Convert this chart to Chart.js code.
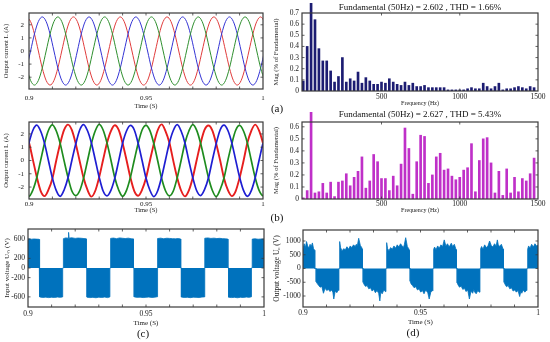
<!DOCTYPE html>
<html><head><meta charset="utf-8">
<script src="https://cdn.jsdelivr.net/npm/chart.js@4.4.1/dist/chart.umd.min.js"></script>
<style>
html,body{margin:0;padding:0;background:#fff;}
body{width:550px;height:342px;position:relative;overflow:hidden;}
.box{position:absolute;}
.lbl{position:absolute;font-family:'Liberation Serif','Times New Roman',serif;font-size:11px;color:#111;transform:translate(-50%,-50%);white-space:nowrap;}
</style></head><body>
<div class="box" style="left:0;top:0;width:270px;height:110px"><canvas id="c1"></canvas></div>
<div class="box" style="left:270px;top:0;width:280px;height:108px"><canvas id="c2"></canvas></div>
<div class="box" style="left:0;top:110px;width:270px;height:106px"><canvas id="c3"></canvas></div>
<div class="box" style="left:270px;top:108px;width:280px;height:108px"><canvas id="c4"></canvas></div>
<div class="box" style="left:0;top:216px;width:272px;height:126px"><canvas id="c5"></canvas></div>
<div class="box" style="left:272px;top:216px;width:278px;height:126px"><canvas id="c6"></canvas></div>
<div class="lbl" style="left:277px;top:108px">(a)</div>
<div class="lbl" style="left:277px;top:217px">(b)</div>
<div class="lbl" style="left:143px;top:333px">(c)</div>
<div class="lbl" style="left:413px;top:332px">(d)</div>
<script>
// ---------------- DATA ----------------
// (a) output current, time samples (s) and three phases (A)
const timeA = [
0.89900,0.90067,0.90233,0.90400,0.90567,0.90733,0.90900,0.91067,0.91233,0.91400,0.91567,0.91733,
0.91900,0.92067,0.92233,0.92400,0.92567,0.92733,0.92900,0.93067,0.93233,0.93400,0.93567,0.93733,
0.93900,0.94067,0.94233,0.94400,0.94567,0.94733,0.94900,0.95067,0.95233,0.95400,0.95567,0.95733,
0.95900,0.96067,0.96233,0.96400,0.96567,0.96733,0.96900,0.97067,0.97233,0.97400,0.97567,0.97733,
0.97900,0.98067,0.98233,0.98400,0.98567,0.98733,0.98900,0.99067,0.99233,0.99400,0.99567,0.99733,
0.99900,1.00067];
const iaRed = [
2.6,2.25,1.3,0,-1.3,-2.25,-2.6,-2.25,-1.3,0,1.3,2.25,
2.6,2.25,1.3,0,-1.3,-2.25,-2.6,-2.25,-1.3,0,1.3,2.25,
2.6,2.25,1.3,0,-1.3,-2.25,-2.6,-2.25,-1.3,0,1.3,2.25,
2.6,2.25,1.3,0,-1.3,-2.25,-2.6,-2.25,-1.3,0,1.3,2.25,
2.6,2.25,1.3,0,-1.3,-2.25,-2.6,-2.25,-1.3,0,1.3,2.25,
2.6,2.25];
const iaBlue = [
-1.3,0,1.3,2.25,2.6,2.25,1.3,0,-1.3,-2.25,-2.6,-2.25,
-1.3,0,1.3,2.25,2.6,2.25,1.3,0,-1.3,-2.25,-2.6,-2.25,
-1.3,0,1.3,2.25,2.6,2.25,1.3,0,-1.3,-2.25,-2.6,-2.25,
-1.3,0,1.3,2.25,2.6,2.25,1.3,0,-1.3,-2.25,-2.6,-2.25,
-1.3,0,1.3,2.25,2.6,2.25,1.3,0,-1.3,-2.25,-2.6,-2.25,
-1.3,0];
const iaGreen = [
-1.3,-2.25,-2.6,-2.25,-1.3,0,1.3,2.25,2.6,2.25,1.3,0,
-1.3,-2.25,-2.6,-2.25,-1.3,0,1.3,2.25,2.6,2.25,1.3,0,
-1.3,-2.25,-2.6,-2.25,-1.3,0,1.3,2.25,2.6,2.25,1.3,0,
-1.3,-2.25,-2.6,-2.25,-1.3,0,1.3,2.25,2.6,2.25,1.3,0,
-1.3,-2.25,-2.6,-2.25,-1.3,0,1.3,2.25,2.6,2.25,1.3,0,
-1.3,-2.25];

// (b) output current with ripple
const timeB = [
0.89667,0.89833,0.90000,0.90167,0.90333,0.90500,0.90667,0.90833,0.91000,0.91167,0.91333,0.91500,
0.91667,0.91833,0.92000,0.92167,0.92333,0.92500,0.92667,0.92833,0.93000,0.93167,0.93333,0.93500,
0.93667,0.93833,0.94000,0.94167,0.94333,0.94500,0.94667,0.94833,0.95000,0.95167,0.95333,0.95500,
0.95667,0.95833,0.96000,0.96167,0.96333,0.96500,0.96667,0.96833,0.97000,0.97167,0.97333,0.97500,
0.97667,0.97833,0.98000,0.98167,0.98333,0.98500,0.98667,0.98833,0.99000,0.99167,0.99333,0.99500,
0.99667,0.99833,1.00000,1.00167];
const ibRed = [
2.62,2.2,1.35,0.05,-1.25,-2.3,-2.68,-2.2,-1.35,0.02,1.28,2.3,
2.7,2.28,1.25,-0.05,-1.32,-2.22,-2.72,-2.28,-1.25,0.05,1.32,2.22,
2.66,2.3,1.3,0.04,-1.28,-2.3,-2.65,-2.2,-1.32,-0.02,1.25,2.28,
2.72,2.22,1.34,-0.03,-1.3,-2.26,-2.7,-2.25,-1.28,0.04,1.3,2.3,
2.64,2.27,1.27,0.02,-1.34,-2.24,-2.68,-2.3,-1.3,-0.04,1.33,2.24,
2.7,2.25,1.3,0.0];
const ibBlue = [
-1.28,0.03,1.33,2.28,2.66,2.2,1.27,-0.02,-1.33,-2.27,-2.7,-2.22,
-1.3,0.02,1.26,2.3,2.7,2.24,1.32,0.04,-1.27,-2.3,-2.66,-2.25,
-1.33,-0.03,1.3,2.22,2.64,2.3,1.28,0.0,-1.32,-2.24,-2.72,-2.28,
-1.26,0.04,1.34,2.26,2.7,2.22,1.3,-0.04,-1.3,-2.28,-2.64,-2.2,
-1.32,0.0,1.27,2.3,2.66,2.26,1.33,0.03,-1.26,-2.25,-2.7,-2.27,
-1.3,0.02,1.3,2.25];
const ibGreen = [
-1.32,-2.26,-2.7,-2.22,-1.28,0.03,1.32,2.28,2.68,2.22,1.27,-0.03,
-1.27,-2.3,-2.64,-2.28,-1.33,-0.02,1.28,2.24,2.72,2.3,1.33,0.04,
-1.3,-2.22,-2.7,-2.25,-1.27,0.04,1.3,2.3,2.65,2.25,1.28,-0.02,
-1.34,-2.28,-2.66,-2.3,-1.3,0.0,1.34,2.22,2.7,2.27,1.3,0.03,
-1.28,-2.24,-2.72,-2.2,-1.32,0.03,1.27,2.28,2.64,2.22,1.32,0.0,
-1.3,-2.25,-2.65,-2.25];

// spectra: frequency bins (Hz) and magnitude (% of fundamental); 50 Hz bin = fundamental
const freqHz = [0,25,50,75,100,125,150,175,200,225,250,275,300,325,350,375,400,425,450,475,
500,525,550,575,600,625,650,675,700,725,750,775,800,825,850,875,900,925,950,975,
1000,1025,1050,1075,1100,1125,1150,1175,1200,1225,1250,1275,1300,1325,1350,1375,1400,1425,1450,1475];
const magA = [0.09,0.40,100,0.64,0.38,0.27,0.27,0.18,0.08,0.13,0.30,0.08,0.11,0.09,0.17,0.07,0.12,0.09,0.06,0.06,
0.08,0.07,0.11,0.08,0.06,0.05,0.08,0.05,0.07,0.04,0.04,0.05,0.03,0.03,0.03,0.03,0.03,0.01,0.01,0.01,
0.01,0.01,0.02,0.03,0.02,0.02,0.07,0.04,0.02,0.04,0.07,0.01,0.02,0.02,0.03,0.04,0.03,0.02,0.04,0.03];
const magB = [0.01,0.07,100,0.05,0.06,0.13,0.05,0.14,0.02,0.14,0.15,0.21,0.11,0.18,0.23,0.35,0.09,0.15,0.37,0.31,
0.17,0.17,0.07,0.19,0.11,0.29,0.59,0.42,0.04,0.31,0.53,0.52,0.13,0.20,0.35,0.38,0.24,0.25,0.19,0.16,
0.18,0.24,0.26,0.46,0.06,0.32,0.50,0.51,0.30,0.05,0.23,0.03,0.25,0.05,0.18,0.06,0.17,0.15,0.21,0.34];

// (c) input voltage envelope (s, V)
const uinTime = [
0.8995,0.8995,0.9005,0.9015,0.9025,0.9035,0.9047,0.9047,
0.9050,0.9050,0.9062,0.9075,0.9088,0.9100,0.9112,0.9125,0.9137,0.9147,0.9147,
0.9150,0.9150,0.9160,0.9170,0.9172,0.9174,0.9185,0.9200,0.9212,0.9225,0.9237,0.9247,0.9247,
0.9250,0.9250,0.9262,0.9275,0.9288,0.9300,0.9312,0.9325,0.9337,0.9347,0.9347,
0.9350,0.9350,0.9362,0.9375,0.9388,0.9400,0.9412,0.9425,0.9437,0.9447,0.9447,
0.9450,0.9450,0.9462,0.9475,0.9488,0.9500,0.9512,0.9525,0.9537,0.9547,0.9547,
0.9550,0.9550,0.9562,0.9575,0.9588,0.9600,0.9612,0.9625,0.9637,0.9647,0.9647,
0.9650,0.9650,0.9662,0.9675,0.9688,0.9700,0.9712,0.9725,0.9737,0.9747,0.9747,
0.9750,0.9750,0.9762,0.9775,0.9788,0.9800,0.9812,0.9825,0.9837,0.9847,0.9847,
0.9850,0.9850,0.9862,0.9875,0.9888,0.9900,0.9912,0.9925,0.9937,0.9947,0.9947,
0.9950,0.9950,0.9962,0.9975,0.9988,1.0005,1.0005];
const uinVolt = [
0,600,605,598,603,600,596,0,
0,-600,-612,-605,-615,-608,-612,-604,-610,-600,0,
0,610,625,620,740,620,628,615,622,618,612,605,0,
0,-605,-615,-610,-618,-606,-612,-604,-615,-600,0,
0,615,622,610,625,618,612,620,608,604,0,
0,-600,-610,-606,-614,-608,-604,-612,-606,-598,0,
0,612,620,608,618,614,610,606,612,602,0,
0,-604,-612,-608,-616,-606,-610,-614,-604,-600,0,
0,618,625,614,620,612,616,610,606,600,0,
0,-606,-614,-610,-618,-608,-612,-604,-610,-598,0,
0,600,606,598,602,600,0];

// (d) output voltage envelope (s, V)
const uoTime = [
0.8995,0.8995,0.9000,0.9005,0.9010,0.9015,0.9020,0.9025,0.9030,0.9035,0.9040,0.9045,0.9050,0.9050,
0.9056,0.9056,0.9060,0.9066,0.9073,0.9080,0.9087,0.9094,0.9101,0.9108,0.9115,0.9122,0.9127,0.9131,0.9137,0.9144,0.9150,0.9153,0.9153,
0.9156,0.9156,0.9160,0.9166,0.9173,0.9180,0.9187,0.9194,0.9201,0.9208,0.9215,0.9222,0.9227,0.9231,0.9237,0.9244,0.9250,0.9253,0.9253,
0.9256,0.9256,0.9260,0.9266,0.9273,0.9280,0.9287,0.9294,0.9301,0.9308,0.9315,0.9322,0.9327,0.9331,0.9337,0.9344,0.9350,0.9353,0.9353,
0.9356,0.9356,0.9360,0.9366,0.9373,0.9380,0.9387,0.9394,0.9401,0.9408,0.9415,0.9422,0.9427,0.9431,0.9437,0.9444,0.9450,0.9453,0.9453,
0.9456,0.9456,0.9460,0.9466,0.9473,0.9480,0.9487,0.9494,0.9501,0.9508,0.9515,0.9522,0.9527,0.9531,0.9537,0.9544,0.9550,0.9553,0.9553,
0.9556,0.9556,0.9560,0.9566,0.9573,0.9580,0.9587,0.9594,0.9601,0.9608,0.9615,0.9622,0.9627,0.9631,0.9637,0.9644,0.9650,0.9653,0.9653,
0.9656,0.9656,0.9660,0.9666,0.9673,0.9680,0.9687,0.9694,0.9701,0.9708,0.9715,0.9722,0.9727,0.9731,0.9737,0.9744,0.9750,0.9753,0.9753,
0.9756,0.9756,0.9760,0.9766,0.9773,0.9780,0.9787,0.9794,0.9801,0.9808,0.9815,0.9822,0.9827,0.9831,0.9837,0.9844,0.9850,0.9853,0.9853,
0.9856,0.9856,0.9860,0.9866,0.9873,0.9880,0.9887,0.9894,0.9901,0.9908,0.9915,0.9922,0.9927,0.9931,0.9937,0.9944,0.9950,0.9953,0.9953,
0.9956,0.9956,0.9960,0.9966,0.9973,0.9980,0.9987,0.9994,1.0001,1.0006,1.0006];
const uoVolt = [
0,760,700,900,760,980,820,740,880,800,930,720,660,0,
0,-480,-540,-610,-680,-650,-900,-720,-800,-760,-840,-780,-860,-1110,-820,-880,-780,-800,0,
0,980,760,640,720,680,790,700,820,760,860,800,880,820,1100,840,760,700,0,
0,-500,-580,-650,-620,-740,-700,-820,-760,-880,-800,-900,-1180,-860,-920,-780,-840,-800,0,
0,940,720,650,760,700,820,740,860,780,900,820,760,860,1120,800,720,660,0,
0,-460,-560,-620,-700,-660,-780,-740,-860,-800,-920,-780,-840,-880,-1110,-860,-800,-820,0,
0,700,780,680,820,740,860,800,1040,820,900,780,860,920,800,880,720,680,0,
0,-520,-600,-680,-640,-760,-720,-840,-780,-1110,-820,-900,-760,-860,-920,-800,-860,-780,0,
0,720,800,700,860,760,820,1000,840,780,900,820,1040,860,800,880,740,700,0,
0,-500,-580,-660,-620,-740,-700,-820,-780,-860,-800,-1020,-840,-900,-780,-860,-800,-760,0,
0,700,820,740,880,780,900,820,860,800,0];

// tick values and labels
const timeTicks = [0.9,0.91,0.92,0.93,0.94,0.95,0.96,0.97,0.98,0.99,1.0];
const timeTickLabels = ['0.9','','','','','0.95','','','','','1'];
const currentTicks = [-2,-1,0,1,2];
const currentTickLabels = ['-2','-1','0','1','2'];
const freqTicks = [500,1000,1500];
const freqTickLabels = ['500','1000','1500'];
const magATicks = [0,0.1,0.2,0.3,0.4,0.5,0.6,0.7];
const magATickLabels = ['0','0.1','0.2','0.3','0.4','0.5','0.6','0.7'];
const magBTicks = [0,0.1,0.2,0.3,0.4,0.5,0.6];
const magBTickLabels = ['0','0.1','0.2','0.3','0.4','0.5','0.6'];
const uinTicks = [-600,-200,0,200,600];
const uinTickLabels = ['-600','-200','0','200','600'];
const uoTicks = [-1000,-500,0,500,1000];
const uoTickLabels = ['-1000','-500','0','500','1000'];

// ---------------- CHARTS ----------------
Chart.defaults.font.family = "'Liberation Serif','Times New Roman',serif";
Chart.defaults.color = '#1a1a1a';

const frame = {
  id: 'frame',
  afterDatasetsDraw(chart, args, opts) {
    const {ctx, chartArea: a, scales} = chart;
    const L = opts.tick || 2.5;
    ctx.save();
    ctx.strokeStyle = '#3a3a3a';
    ctx.lineWidth = 0.8;
    ctx.beginPath();
    scales.x.ticks.forEach(t => {
      const p = scales.x.getPixelForValue(t.value);
      if (p < a.left + 1 || p > a.right - 1) return;
      ctx.moveTo(p, a.bottom); ctx.lineTo(p, a.bottom - L);
      ctx.moveTo(p, a.top); ctx.lineTo(p, a.top + L);
    });
    scales.y.ticks.forEach(t => {
      const p = scales.y.getPixelForValue(t.value);
      if (p < a.top + 1 || p > a.bottom - 1) return;
      ctx.moveTo(a.left, p); ctx.lineTo(a.left + L, p);
      ctx.moveTo(a.right, p); ctx.lineTo(a.right - L, p);
    });
    ctx.stroke();
    ctx.lineWidth = 1.2;
    ctx.strokeRect(a.left, a.top, a.right - a.left, a.bottom - a.top);
    ctx.restore();
  }
};
Chart.register(frame);

function xAxis(o) {
  return {
    type: 'linear', min: o.min, max: o.max, offset: false,
    grid: {display: false, drawTicks: false, offset: false}, border: {display: false},
    afterBuildTicks: s => { s.ticks = o.ticks.map(v => ({value: v})); },
    afterFit: s => { s.height = o.height; },
    ticks: {autoSkip: false, maxRotation: 0, minRotation: 0, padding: o.pad, font: {size: o.size},
            callback: (v, i) => o.labels[i]},
    title: {display: true, text: o.title, font: {size: o.tsize}, padding: {top: 0, bottom: o.tpad}}
  };
}
function yAxis(o) {
  return {
    type: 'linear', min: o.min, max: o.max,
    grid: {display: false, drawTicks: false}, border: {display: false},
    afterBuildTicks: s => { s.ticks = o.ticks.map(v => ({value: v})); },
    afterFit: s => { s.width = o.width; },
    ticks: {autoSkip: false, padding: o.pad, font: {size: o.size}, callback: (v, i) => o.labels[i]},
    title: {display: true, text: o.title, font: {size: o.tsize}, padding: {top: o.tpad, bottom: 0}}
  };
}
function pts(xs, ys) { return xs.map((x, i) => ({x: x, y: ys[i]})); }
function base(padding, scales, extraPlugins) {
  return {
    responsive: true, maintainAspectRatio: false, animation: false, devicePixelRatio: 1,
    layout: {padding: padding},
    plugins: Object.assign({legend: {display: false}, tooltip: {enabled: false}, title: {display: false}, frame: {tick: 2.5}}, extraPlugins || {}),
    scales: scales,
    elements: {point: {radius: 0}}
  };
}
function lineDs(data, color, w) {
  return {data: data, borderColor: color, borderWidth: w, pointRadius: 0, fill: false,
          cubicInterpolationMode: 'monotone'};
}

// (a) left
new Chart(document.getElementById('c1'), {
  type: 'line',
  data: {datasets: [
    lineDs(pts(timeA, iaGreen), '#2f8f2f', 1),
    lineDs(pts(timeA, iaBlue), '#3434d4', 1),
    lineDs(pts(timeA, iaRed), '#e03c3c', 1)
  ]},
  options: base({left: 0, top: 13, right: 7, bottom: 0}, {
    x: xAxis({min: 0.9, max: 1, ticks: timeTicks, labels: timeTickLabels, height: 21, pad: 4.5, size: 7,
              title: 'Time (S)', tsize: 6.5, tpad: 0.2}),
    y: yAxis({min: -2.9, max: 2.9, ticks: currentTicks, labels: currentTickLabels, width: 29, pad: 5, size: 7,
              title: 'Output current I\u2092 (A)', tsize: 6.5, tpad: 2.8})
  })
});

// (a) right spectrum
new Chart(document.getElementById('c2'), {
  type: 'bar',
  data: {datasets: [{data: pts(freqHz, magA), backgroundColor: '#1c1c72', barThickness: 2,
                     clip: {left: 0, top: 10, right: 0, bottom: 0}}]},
  options: base({left: 0, top: 0, right: 12, bottom: 0}, {
    x: xAxis({min: -8, max: 1500, ticks: freqTicks, labels: freqTickLabels, height: 17, pad: 1.9, size: 7.5,
              title: 'Frequency (Hz)', tsize: 6, tpad: 1.1}),
    y: yAxis({min: 0, max: 0.7, ticks: magATicks, labels: magATickLabels, width: 32, pad: 3, size: 7.5,
              title: 'Mag (% of Fundamental)', tsize: 6.6, tpad: 2.7})
  }, {title: {display: true, fullSize: false, text: 'Fundamental (50Hz) = 2.602 , THD = 1.66%',
              font: {size: 9, weight: 'normal'}, color: '#111', padding: {top: 1.9, bottom: 0.3}}})
});

// (b) left
new Chart(document.getElementById('c3'), {
  type: 'line',
  data: {datasets: [
    lineDs(pts(timeB, ibBlue), '#1e1ed2', 1.7),
    lineDs(pts(timeB, ibGreen), '#1e8c1e', 1.7),
    lineDs(pts(timeB, ibRed), '#e61e1e', 1.9)
  ]},
  options: base({left: 0, top: 12, right: 7, bottom: 0}, {
    x: xAxis({min: 0.9, max: 1, ticks: timeTicks, labels: timeTickLabels, height: 17, pad: 1, size: 7,
              title: 'Time (S)', tsize: 6.5, tpad: 2.1}),
    y: yAxis({min: -2.9, max: 2.9, ticks: currentTicks, labels: currentTickLabels, width: 29, pad: 5, size: 7,
              title: 'Output current I\u2092 (A)', tsize: 6.5, tpad: 2.8})
  })
});

// (b) right spectrum
new Chart(document.getElementById('c4'), {
  type: 'bar',
  data: {datasets: [{data: pts(freqHz, magB), backgroundColor: '#bf30c8', barThickness: 2,
                     clip: {left: 0, top: 10, right: 0, bottom: 0}}]},
  options: base({left: 0, top: 0, right: 12, bottom: 0}, {
    x: xAxis({min: -8, max: 1500, ticks: freqTicks, labels: freqTickLabels, height: 17, pad: 0.5, size: 7.5,
              title: 'Frequency (Hz)', tsize: 6, tpad: 2.4}),
    y: yAxis({min: 0, max: 0.64, ticks: magBTicks, labels: magBTickLabels, width: 32, pad: 3, size: 7.5,
              title: 'Mag (% of Fundamental)', tsize: 6.6, tpad: 2.7})
  }, {title: {display: true, fullSize: false, text: 'Fundamental (50Hz) = 2.627 , THD = 5.43%',
              font: {size: 9, weight: 'normal'}, color: '#111', padding: {top: 1.6, bottom: 1.6}}})
});

// (c) input voltage
new Chart(document.getElementById('c5'), {
  type: 'line',
  data: {datasets: [{data: pts(uinTime, uinVolt), borderColor: '#0072BD', backgroundColor: '#0072BD',
                     borderWidth: 0.8, pointRadius: 0, fill: 'origin', tension: 0}]},
  options: base({left: 0, top: 13, right: 8, bottom: 0}, {
    x: xAxis({min: 0.9, max: 1, ticks: timeTicks, labels: timeTickLabels, height: 35, pad: 2.2, size: 7.5,
              title: 'Time (S)', tsize: 7, tpad: 15.1}),
    y: yAxis({min: -810, max: 810, ticks: uinTicks, labels: uinTickLabels, width: 28, pad: 3, size: 7.5,
              title: 'Input voltage U\u1d62\u2099 (V)', tsize: 7, tpad: 2.5})
  })
});

// (d) output voltage
new Chart(document.getElementById('c6'), {
  type: 'line',
  data: {datasets: [{data: pts(uoTime, uoVolt), borderColor: '#0072BD', backgroundColor: '#0072BD',
                     borderWidth: 0.8, pointRadius: 0, fill: 'origin', tension: 0}]},
  options: base({left: 0, top: 14, right: 12, bottom: 0}, {
    x: xAxis({min: 0.9, max: 1, ticks: timeTicks, labels: timeTickLabels, height: 35, pad: 1.9, size: 7.5,
              title: 'Time (S)', tsize: 7, tpad: 16.1}),
    y: yAxis({min: -1400, max: 1400, ticks: uoTicks, labels: uoTickLabels, width: 31, pad: 2.3, size: 7.5,
              title: 'Output voltage U\u2092 (V)', tsize: 7.5, tpad: 0.8})
  })
});
</script>
</body></html>
